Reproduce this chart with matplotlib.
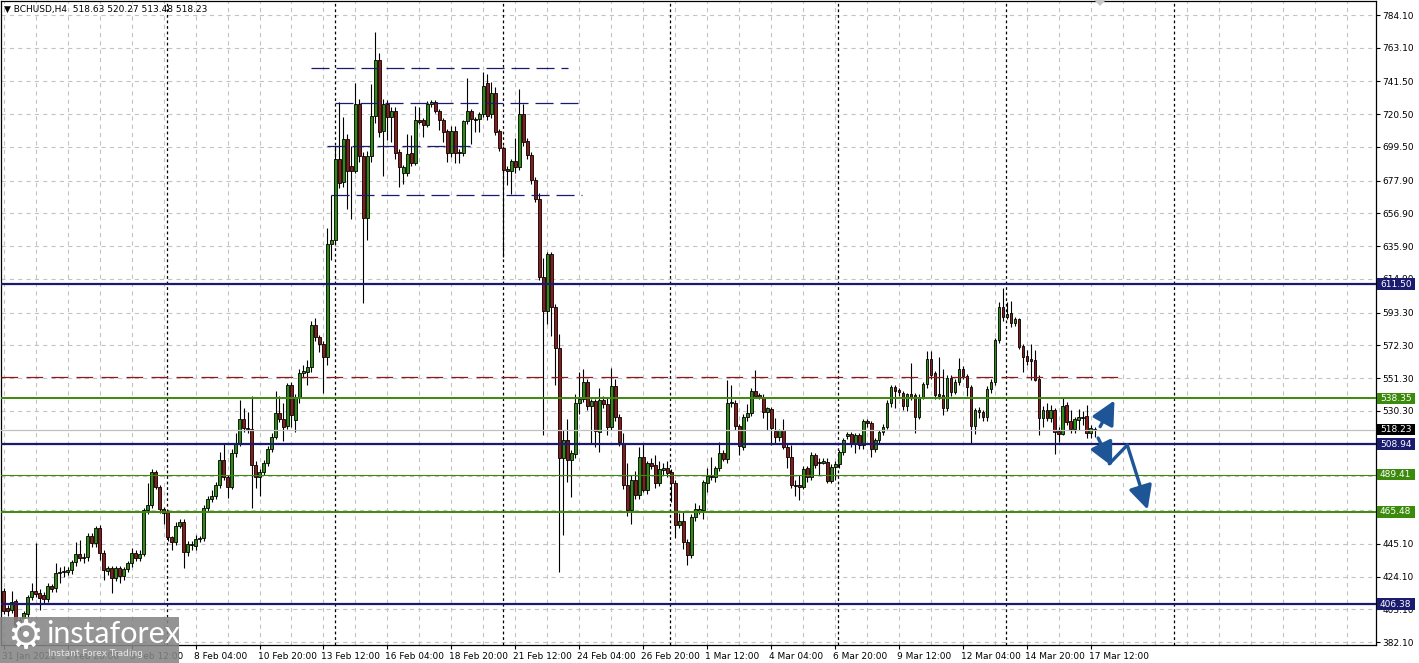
import matplotlib
matplotlib.use("Agg")
import matplotlib.pyplot as plt
import matplotlib.transforms as mtrans
from matplotlib.patches import Rectangle, Polygon
import numpy as np

plt.rcParams['lines.scale_dashes'] = False
plt.rcParams['font.family'] = ['DejaVu Sans']

# ---------------- data (BCHUSD H4, bar 0 = 31 Jan 2021 04:00) ----------------
opens = [415.0, 404.0, 402.6, 408.4, 393.0, 397.6, 400.0, 411.0, 414.8, 413.5,
         412.0, 409.7, 418.0, 416.7, 426.4, 427.0, 427.0, 428.3, 433.4, 438.6,
         436.0, 436.6, 450.1, 445.6, 455.2, 439.2, 427.6, 429.6, 423.2, 429.6,
         424.5, 428.9, 432.7, 439.2, 436.0, 438.6, 466.8, 470.0, 491.1, 481.5,
         467.6, 465.4, 449.4, 446.2, 456.4, 459.1, 439.8, 445.0, 443.7, 448.2,
         448.8, 468.0, 473.8, 475.7, 482.8, 498.8, 487.9, 481.5, 503.3, 509.7,
         525.1, 519.3, 518.6, 495.6, 487.9, 491.1, 496.9, 505.8, 513.5, 528.9,
         525.1, 520.6, 546.9, 524.5, 539.4, 554.8, 555.5, 558.2, 585.5, 577.9,
         572.9, 564.6, 637.3, 639.8, 691.6, 677.2, 704.6, 687.5, 684.3, 727.0,
         694.0, 654.0, 694.0, 719.3, 755.2, 710.0, 727.0, 718.5, 722.8, 696.4,
         683.0, 683.0, 695.4, 689.4, 716.8, 716.8, 713.6, 727.0, 728.5, 722.6,
         716.8, 709.9, 695.8, 709.9, 696.4, 695.8, 716.1, 722.6, 717.2, 717.4,
         720.6, 740.3, 720.6, 734.3, 709.7, 699.0, 685.2, 684.3, 690.7, 686.8,
         720.6, 703.3, 694.4, 678.3, 666.0, 616.3, 594.5, 630.9, 597.1, 570.4,
         499.9, 511.6, 498.8, 502.6, 535.3, 537.7, 549.0, 533.4, 536.8, 517.0,
         537.3, 534.7, 519.8, 546.4, 526.6, 509.9, 482.8, 466.8, 486.0, 476.4,
         500.5, 479.6, 496.7, 495.4, 484.3, 492.4, 493.5, 491.3, 483.9, 457.1,
         459.9, 446.5, 437.9, 462.5, 466.3, 466.8, 484.3, 487.7, 487.7, 493.5,
         503.5, 499.2, 535.2, 535.6, 520.6, 507.4, 526.2, 529.2, 543.3, 540.5,
         539.4, 529.8, 531.3, 517.6, 513.8, 518.0, 507.4, 500.5, 482.8, 482.8,
         481.7, 493.5, 487.7, 502.0, 496.7, 497.1, 497.7, 485.6, 494.5, 496.2,
         503.9, 514.2, 515.5, 509.5, 514.8, 508.4, 523.8, 522.8, 505.6, 511.6,
         517.0, 520.2, 535.6, 545.4, 543.7, 542.0, 533.4, 541.1, 540.5, 526.6,
         539.4, 547.5, 563.3, 554.4, 540.9, 540.5, 532.4, 551.6, 542.6, 549.0,
         556.9, 552.7, 545.8, 520.8, 529.5, 529.8, 526.2, 544.1, 549.0, 575.7,
         597.1, 590.7, 593.3, 586.9, 589.2, 571.9, 565.5, 563.8, 562.9, 550.5,
         525.9, 530.9, 525.5, 530.9, 517.4, 515.3, 534.1, 523.8, 518.5, 524.5,
         526.6, 527.0, 515.9, 518.63]
highs = [417.0, 406.0, 415.0, 410.0, 398.0, 402.0, 412.0, 420.0, 445.6, 416.0,
         414.0, 420.0, 419.0, 432.8, 430.0, 431.0, 430.0, 435.0, 446.2, 447.5,
         439.0, 452.0, 452.0, 456.5, 457.0, 441.0, 431.0, 431.0, 431.0, 431.0,
         430.0, 434.0, 442.4, 441.0, 441.0, 468.0, 483.8, 493.0, 492.5, 483.0,
         469.0, 467.0, 450.0, 459.0, 461.0, 461.0, 447.0, 447.0, 451.0, 450.0,
         470.0, 476.0, 479.6, 485.0, 504.0, 509.7, 489.0, 506.0, 516.0, 537.0,
         532.4, 529.8, 540.0, 498.0, 493.0, 499.0, 508.0, 516.0, 543.3, 539.9,
         535.6, 548.0, 549.0, 541.0, 557.0, 560.0, 563.0, 588.2, 590.0, 579.0,
         575.0, 647.5, 668.7, 700.0, 728.5, 718.9, 708.0, 700.0, 740.3, 730.0,
         696.0, 697.0, 740.0, 773.0, 760.0, 730.0, 729.6, 725.0, 725.0, 698.0,
         688.0, 708.0, 707.0, 725.8, 725.0, 718.0, 729.0, 729.6, 729.6, 724.0,
         718.0, 711.0, 713.0, 713.0, 698.0, 717.0, 743.5, 724.0, 719.0, 722.0,
         747.8, 746.0, 741.0, 738.0, 711.0, 700.0, 687.0, 692.0, 705.0, 736.5,
         727.0, 705.0, 696.0, 680.0, 669.8, 628.1, 632.4, 632.0, 599.0, 579.6,
         518.0, 524.9, 505.0, 541.0, 555.4, 556.9, 551.0, 538.0, 538.0, 544.8,
         540.0, 539.0, 557.6, 551.0, 528.0, 515.9, 496.7, 489.0, 492.0, 507.4,
         509.5, 498.0, 500.0, 502.0, 498.0, 497.0, 498.0, 493.0, 486.0, 465.0,
         465.7, 448.0, 464.0, 471.0, 470.0, 486.0, 494.0, 501.0, 495.0, 510.6,
         505.0, 550.1, 547.0, 537.0, 522.0, 528.0, 535.0, 545.0, 556.5, 542.0,
         541.0, 533.0, 533.0, 525.5, 519.0, 524.9, 509.0, 508.4, 486.0, 489.0,
         495.0, 495.0, 504.0, 503.0, 500.0, 500.0, 500.0, 496.0, 498.0, 505.0,
         513.0, 517.0, 517.0, 516.0, 516.0, 525.0, 525.0, 524.0, 513.0, 518.0,
         522.0, 537.0, 547.0, 547.0, 545.0, 543.0, 542.0, 560.8, 542.0, 541.0,
         549.0, 568.9, 569.0, 556.0, 564.6, 556.9, 553.0, 553.0, 551.0, 564.0,
         559.0, 554.0, 547.0, 532.0, 533.0, 531.0, 546.0, 551.0, 577.0, 600.0,
         608.9, 600.3, 601.0, 590.7, 590.0, 573.2, 569.4, 573.2, 569.4, 553.3,
         533.4, 535.6, 534.0, 532.0, 520.2, 538.8, 536.2, 530.9, 526.6, 531.3,
         530.0, 534.1, 521.0, 520.27]
lows = [400.0, 399.0, 401.0, 391.0, 390.0, 395.0, 398.0, 409.0, 411.0, 402.6,
        407.0, 408.0, 414.0, 414.0, 420.0, 424.0, 425.0, 426.0, 431.0, 434.0,
        433.0, 434.0, 443.0, 443.0, 434.7, 421.9, 425.0, 413.5, 421.0, 420.0,
        422.0, 427.0, 430.0, 434.0, 434.0, 437.0, 464.0, 468.0, 480.0, 465.0,
        458.0, 447.0, 441.0, 444.0, 455.0, 429.6, 437.0, 441.0, 441.0, 446.0,
        447.0, 466.0, 472.0, 474.0, 481.0, 486.0, 474.4, 480.0, 501.0, 508.0,
        517.0, 516.0, 468.3, 481.0, 476.0, 489.0, 495.0, 504.0, 512.0, 523.0,
        511.0, 519.0, 520.0, 517.0, 535.6, 552.0, 547.0, 555.0, 575.0, 568.0,
        541.6, 560.0, 627.0, 637.0, 673.0, 674.0, 660.0, 653.0, 683.0, 690.0,
        599.4, 640.0, 690.0, 715.0, 706.0, 680.9, 704.0, 702.9, 692.0, 673.6,
        675.8, 681.0, 687.0, 688.0, 714.0, 706.1, 712.0, 725.0, 721.0, 710.4,
        703.0, 690.0, 693.0, 689.0, 689.4, 694.0, 714.0, 701.4, 709.3, 709.0,
        719.0, 717.0, 718.0, 707.0, 697.0, 629.0, 675.1, 669.3, 683.0, 685.0,
        700.0, 692.0, 676.0, 664.0, 614.0, 514.8, 586.0, 578.0, 546.9, 427.2,
        450.7, 485.0, 475.3, 500.0, 528.0, 536.0, 531.0, 509.9, 507.0, 504.0,
        532.0, 515.0, 518.0, 524.0, 508.0, 480.0, 463.0, 457.8, 474.0, 474.0,
        478.0, 477.0, 493.0, 480.6, 482.0, 489.0, 488.0, 472.1, 448.6, 455.0,
        441.5, 431.5, 436.0, 460.0, 464.0, 460.8, 478.0, 486.0, 485.0, 492.0,
        498.0, 497.0, 533.0, 518.0, 502.0, 505.0, 524.0, 527.0, 541.0, 538.0,
        526.0, 518.0, 508.4, 509.5, 511.0, 506.0, 493.5, 480.6, 476.0, 473.2,
        480.0, 485.0, 486.0, 494.0, 489.2, 496.0, 484.0, 484.0, 486.0, 494.0,
        502.0, 512.0, 507.0, 503.5, 506.0, 506.0, 520.0, 500.9, 504.0, 510.0,
        515.0, 519.0, 533.0, 531.9, 540.0, 531.0, 530.0, 537.0, 515.9, 525.0,
        538.0, 545.0, 551.0, 538.0, 538.0, 527.6, 530.0, 540.0, 541.0, 547.0,
        551.0, 540.0, 509.5, 515.5, 526.0, 524.0, 524.0, 542.0, 547.0, 574.0,
        588.0, 589.0, 583.9, 585.0, 570.0, 555.4, 559.7, 550.1, 549.7, 514.8,
        520.2, 524.0, 523.0, 502.7, 510.6, 514.8, 521.0, 516.0, 516.0, 518.0,
        521.0, 513.0, 512.7, 513.48]
closes = [402.2, 402.0, 407.7, 393.0, 396.3, 400.7, 411.0, 414.8, 413.0, 410.3,
          409.7, 418.0, 416.1, 426.4, 426.9, 427.7, 428.3, 433.4, 438.6, 436.0,
          436.6, 450.1, 445.6, 455.2, 439.2, 428.3, 429.6, 423.2, 429.6, 424.5,
          428.9, 432.7, 439.2, 436.0, 438.6, 466.8, 470.0, 491.1, 481.5, 467.6,
          464.8, 449.4, 446.2, 456.4, 459.1, 439.8, 445.0, 444.3, 448.2, 448.8,
          468.0, 473.8, 475.7, 482.8, 498.8, 487.9, 481.5, 503.3, 509.7, 525.1,
          519.3, 518.6, 495.6, 487.9, 491.1, 496.9, 505.8, 513.5, 528.9, 525.1,
          520.0, 546.9, 527.7, 539.4, 554.8, 556.1, 558.2, 585.5, 577.5, 572.9,
          564.6, 637.3, 639.8, 691.6, 676.6, 704.6, 684.3, 684.3, 727.0, 694.0,
          654.0, 694.0, 719.3, 755.2, 709.3, 727.0, 718.5, 722.8, 695.4, 686.4,
          686.4, 695.0, 689.4, 716.8, 715.8, 713.6, 727.0, 728.5, 722.6, 716.8,
          709.3, 695.8, 709.9, 695.8, 695.4, 716.1, 722.6, 717.2, 716.8, 720.6,
          738.6, 719.3, 734.3, 709.3, 699.0, 684.7, 684.3, 690.7, 686.8, 720.6,
          702.9, 694.4, 678.3, 666.0, 616.3, 594.5, 630.9, 597.1, 570.4, 499.9,
          511.6, 498.8, 503.0, 535.6, 537.7, 549.0, 533.4, 536.8, 517.6, 537.3,
          534.7, 519.8, 546.4, 526.6, 510.5, 482.8, 466.8, 486.0, 476.4, 500.5,
          479.6, 496.7, 495.0, 484.3, 492.8, 493.5, 490.7, 483.9, 457.1, 459.9,
          446.5, 437.9, 462.5, 467.2, 467.2, 484.9, 488.6, 488.6, 493.5, 503.5,
          499.2, 535.2, 535.6, 520.6, 507.8, 526.2, 529.2, 543.3, 539.8, 539.4,
          529.8, 531.9, 519.1, 513.8, 518.0, 507.4, 500.5, 482.8, 482.0, 481.7,
          492.8, 487.7, 502.0, 495.6, 497.7, 498.2, 485.6, 494.1, 496.2, 503.9,
          511.4, 515.5, 509.5, 514.8, 508.4, 523.8, 522.3, 505.6, 511.6, 517.0,
          520.2, 535.6, 545.4, 543.3, 542.4, 533.4, 541.1, 539.4, 526.6, 539.4,
          547.5, 563.3, 553.3, 540.5, 540.1, 532.4, 551.6, 542.6, 549.0, 556.9,
          552.7, 545.8, 520.8, 530.9, 531.0, 526.2, 544.1, 549.0, 575.7, 597.1,
          590.7, 592.4, 586.9, 589.2, 571.5, 564.6, 562.5, 562.5, 550.1, 525.9,
          530.9, 525.5, 530.9, 517.0, 515.3, 533.4, 523.4, 518.5, 525.1, 526.6,
          525.5, 515.9, 519.1, 518.23]

time_labels = ["31 Jan 2021", "2 Feb 20:00", "5 Feb 12:00", "8 Feb 04:00", "10 Feb 20:00",
               "13 Feb 12:00", "16 Feb 04:00", "18 Feb 20:00", "21 Feb 12:00", "24 Feb 04:00",
               "26 Feb 20:00", "1 Mar 12:00", "4 Mar 04:00", "6 Mar 20:00", "9 Mar 12:00",
               "12 Mar 04:00", "14 Mar 20:00", "17 Mar 12:00"]
bars_per_label = 16
bars_per_grid = 8
week_start_bars = [41, 83, 125, 167, 209, 251, 293]   # Sunday 00:00 bars

price_ticks = [784.10, 763.10, 741.50, 720.50, 699.50, 677.90, 656.90, 635.90, 614.90,
               593.30, 572.30, 551.30, 530.30, 509.30, 488.30, 466.70, 445.10, 424.10,
               403.10, 382.10]
hidden_tick_labels = [509.30, 466.70]   # fully covered by level boxes in the original

navy_levels = [611.50, 508.94, 406.38]
green_levels_thick = [538.35, 465.48]
green_levels_thin = [489.41]
last_price = 518.23
red_dashed_level = 551.8
red_dashed_span = (-0.7, 280.2)
# navy dashed box lines: (price, start bar, end bar)
box_lines_price = [749.9, 727.5, 700.3, 668.7]
box_lines_start = [76.8, 82.8, 80.8, 82.0]
box_lines_end = [141.3, 143.8, 117.6, 144.8]
# forecast arrows: (bar, price) tail -> tip
arrow_tails = [(274.3, 520.2), (273.8, 512.9), (281.1, 508.4)]
arrow_tips = [(277.9, 537.0), (277.3, 494.8), (286.2, 467.0)]
zigzag_link = [(276.6, 496.4), (281.1, 508.4)]

header = "BCHUSD,H4  518.63 520.27 513.48 518.23"

# ---------------- styling ----------------
W, H = 1419, 663
NAVY = "#1a1a6e"
GREEN_L = "#3b8a0b"
BULL = "#2f8c12"
BEAR = "#8b1a1a"
GRID = "#c3c3c3"
ARROW = "#1d5596"

fig = plt.figure(figsize=(W / 100, H / 100), dpi=100)
ax_left, ax_right, ax_top, ax_bot = 0.5, 1375.5, 1.0, 645.0
ax = fig.add_axes([ax_left / W, (H - ax_bot) / H, (ax_right - ax_left) / W, (ax_bot - ax_top) / H])

ppp = 0.6411
p_top = 793.72 - ppp * ax_top
p_bot = 793.72 - ppp * ax_bot
ax.set_ylim(p_bot, p_top)
ax.set_xlim(-0.8, (ax_right - 2.7) / 4.0)

o = np.array(opens); h = np.array(highs); l = np.array(lows); c = np.array(closes)
x = np.arange(len(c))

# grid
for p in price_ticks:
    ax.axhline(p, color=GRID, lw=0.8, dashes=(3, 3), zorder=1)
for b in range(0, 344, bars_per_grid):
    ax.axvline(b, color=GRID, lw=0.8, dashes=(3, 3), zorder=1)
for b in week_start_bars:
    ax.axvline(b - 0.2, color="black", lw=0.9, dashes=(2, 2), zorder=2)

# candles
ax.vlines(x, l, h, color="black", lw=0.8, zorder=3)
up = c >= o
body = np.abs(c - o)
body = np.where(body < 0.7, 0.7, body)
bottom = np.minimum(o, c)
ax.bar(x[up], body[up], bottom=bottom[up], width=0.72, color=BULL,
       edgecolor="black", linewidth=0.6, zorder=4)
ax.bar(x[~up], body[~up], bottom=bottom[~up], width=0.72, color=BEAR,
       edgecolor="black", linewidth=0.6, zorder=4)

# levels
ax.axhline(last_price, color="#c0c0c0", lw=0.9, zorder=5)
for p in navy_levels:
    ax.axhline(p, color=NAVY, lw=1.6, zorder=6)
for p in green_levels_thick:
    ax.axhline(p, color=GREEN_L, lw=1.4, zorder=6)
for p in green_levels_thin:
    ax.axhline(p, color=GREEN_L, lw=0.8, zorder=6)
ax.plot(list(red_dashed_span), [red_dashed_level] * 2, color="#8b1a1a", lw=0.9,
        dashes=(12, 6), zorder=6)
for p, s, e in zip(box_lines_price, box_lines_start, box_lines_end):
    ax.plot([s, e], [p, p], color=NAVY, lw=0.9, dashes=(13, 5), zorder=6)

# forecast arrows
ax.plot([zigzag_link[0][0], zigzag_link[1][0]], [zigzag_link[0][1], zigzag_link[1][1]],
        color=ARROW, lw=2.4, solid_capstyle="round", zorder=7)
for t, tip in zip(arrow_tails, arrow_tips):
    ax.annotate("", xy=tip, xytext=t,
                arrowprops=dict(arrowstyle="-|>,head_length=0.9,head_width=0.45",
                                color=ARROW, lw=2.4, shrinkA=0, shrinkB=0,
                                mutation_scale=16), zorder=7)

# axes frame & ticks
for s in ax.spines.values():
    s.set_color("black"); s.set_linewidth(0.9)
ax.yaxis.tick_right()
ax.set_yticks(price_ticks)
ax.set_yticklabels(["" if p in hidden_tick_labels else f"{p:.2f}" for p in price_ticks],
                   fontsize=6.5)
ax.tick_params(axis="y", length=3, width=0.8, pad=2, colors="black")
tick_bars = list(range(0, bars_per_label * len(time_labels), bars_per_label))
ax.set_xticks(tick_bars)
ax.set_xticklabels(time_labels, fontsize=6.5, ha="left")
ax.tick_params(axis="x", length=3, width=0.8, pad=2)
for lab in ax.get_xticklabels():
    lab.set_transform(lab.get_transform() + mtrans.ScaledTranslation(-2 / 100, 0, fig.dpi_scale_trans))

# price label boxes on the right
blend = mtrans.blended_transform_factory(fig.transFigure, ax.transData)
box_h = 11.5 * ppp
box_items = [(611.50, NAVY), (538.35, GREEN_L), (518.23, "black"), (508.94, NAVY),
             (489.41, GREEN_L), (465.48, GREEN_L), (406.38, NAVY)]
for p, col in box_items:
    fig.add_artist(Rectangle((1377 / W, p - box_h / 2), 38 / W, box_h, transform=blend,
                             facecolor=col, edgecolor="none", zorder=10))
    fig.text(1380 / W, p, f"{p:.2f}", transform=blend, color="white", fontsize=6.5,
             va="center", ha="left", zorder=11)

# header
fig.text(4 / W, 1 - 9 / H, "\u25bc " + header, fontsize=6.5, va="center", ha="left")
# shift marker at top
fig.add_artist(Polygon([[1094 / W, 1.0], [1106 / W, 1.0], [1100 / W, 1 - 6 / H]],
                       closed=True, transform=fig.transFigure, facecolor="#c8c8c8",
                       edgecolor="none", zorder=9))

# watermark
fig.add_artist(Rectangle((0, 0), 179 / W, 46 / H, transform=fig.transFigure,
                         facecolor="#858585", edgecolor="none", alpha=0.88, zorder=12))
fig.text(25 / W, 1 - 637 / H, "\u2699", fontsize=29, color="white", ha="center",
         va="center", zorder=13, family=["DejaVu Sans"])
fig.text(46 / W, 1 - 634 / H, "instaforex", fontsize=22, color="white", ha="left",
         va="center", zorder=13, family=["Lato", "DejaVu Sans"])
fig.text(48 / W, 1 - 654 / H, "Instant Forex Trading", fontsize=6.5, color="#e8e8e8",
         ha="left", va="center", zorder=13)

fig.savefig("out.png", dpi=100, facecolor="white")
